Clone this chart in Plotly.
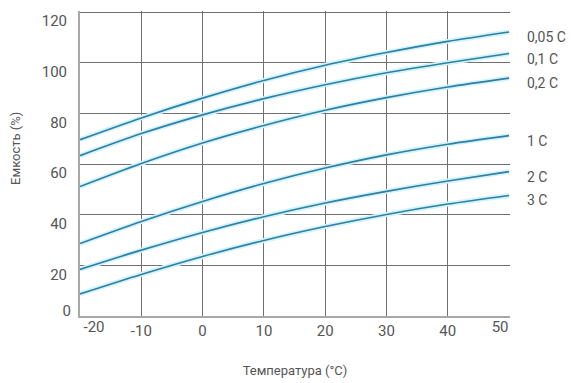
import plotly.graph_objects as go

temps = [-20, -10, 0, 10, 20, 30, 40, 50]
series_names = ["0,05 C", "0,1 C", "0,2 C", "1 C", "2 C", "3 C"]
cap_005 = [69.6, 78.2, 86.0, 93.0, 99.0, 104.0, 108.4, 112.1]
cap_01 = [63.3, 72.0, 79.4, 85.8, 91.3, 96.0, 100.0, 103.6]
cap_02 = [51.1, 60.2, 68.3, 75.2, 81.2, 86.2, 90.4, 93.9]
cap_1 = [28.6, 37.3, 45.2, 52.3, 58.4, 63.6, 67.8, 71.2]
cap_2 = [18.4, 26.0, 33.0, 39.2, 44.6, 49.2, 53.3, 57.0]
cap_3 = [8.7, 16.4, 23.5, 29.8, 35.3, 40.1, 44.2, 47.6]
series_values = [cap_005, cap_01, cap_02, cap_1, cap_2, cap_3]

x_ticks = [-20, -10, 0, 10, 20, 30, 40, 50]
y_ticks = [0, 20, 40, 60, 80, 100, 120]

FONT = "Roboto, Arial, sans-serif"
TXT = "#555555"
X_RANGE = [-20, 50.15]
Y_RANGE = [0, 120.4]

# which overlaid axis pair each curve is drawn on (all share identical ranges)
axis_pairs = [("x", "y2"), ("x", "y2"), ("x2", "y"), ("x2", "y"), ("x3", "y"), ("x3", "y")]

fig = go.Figure()
# soft halo under each curve (base axes)
for name, vals in zip(series_names, series_values):
    fig.add_trace(go.Scatter(x=temps, y=vals, mode="lines", xaxis="x", yaxis="y",
                             line=dict(color="#d2f3fb", width=5, shape="spline", smoothing=0.8),
                             hoverinfo="skip", showlegend=False))
# the curves themselves
for (xa, ya), name, vals in zip(axis_pairs, series_names, series_values):
    fig.add_trace(go.Scatter(x=temps, y=vals, mode="lines", name=name, xaxis=xa, yaxis=ya,
                             line=dict(color="#2e7fa3", width=1.6, shape="spline", smoothing=0.8),
                             showlegend=False))
    fig.add_annotation(x=1.0, xref="paper", y=vals[-1], yref="y", text=name, showarrow=False,
                       xanchor="left", xshift=15, yshift=-5, font=dict(family=FONT, size=14, color=TXT))

fig.add_annotation(x=-0.1488, y=0.548, xref="paper", yref="paper", text="Емкость (%)", textangle=-90,
                   xanchor="center", yanchor="middle",
                   showarrow=False, font=dict(family=FONT, size=13, color=TXT))

tick_font = dict(family=FONT, size=15, color=TXT)
main_y_text = ["" if v == y_ticks[0] else str(v) for v in y_ticks]
main_x_text = ["" if v in (x_ticks[0], x_ticks[-1]) else str(v) for v in x_ticks]
bare = dict(showgrid=False, zeroline=False, showline=False, ticks="", tickfont=tick_font)

fig.update_layout(
    width=569, height=375,
    margin=dict(l=72, r=67, t=3, b=67),
    paper_bgcolor="white", plot_bgcolor="white",
    font=dict(family=FONT, color=TXT),
    xaxis=dict(range=X_RANGE, tickvals=x_ticks, ticktext=main_x_text,
               showgrid=True, gridcolor="#6f6f6f", gridwidth=1, zeroline=False,
               showline=True, linecolor="#a8a8a8", linewidth=2, ticks="",
               tickfont=tick_font,
               title=dict(text="Температура (°C)", font=dict(family=FONT, size=13, color=TXT), standoff=27)),
    xaxis2=dict(range=X_RANGE, overlaying="x", anchor="y", side="bottom",
                tickvals=[x_ticks[0]], ticktext=[str(x_ticks[0])], ticklabelshift=14, **bare),
    xaxis3=dict(range=X_RANGE, overlaying="x", anchor="y", side="bottom",
                tickvals=[x_ticks[-1]], ticktext=[str(x_ticks[-1])], ticklabelshift=-9, **bare),
    yaxis=dict(range=Y_RANGE, tickvals=y_ticks, ticktext=main_y_text,
               showgrid=True, gridcolor="#6f6f6f", gridwidth=1, zeroline=False,
               showline=True, linecolor="#a8a8a8", linewidth=2, ticks="",
               ticklabelshift=9, ticklabelstandoff=8, tickfont=tick_font),
    yaxis2=dict(range=Y_RANGE, overlaying="y", anchor="x", side="left",
                tickvals=[y_ticks[0]], ticktext=[str(y_ticks[0])],
                ticklabelshift=-5, ticklabelstandoff=8, **bare),
)

fig.write_html("out.html")
